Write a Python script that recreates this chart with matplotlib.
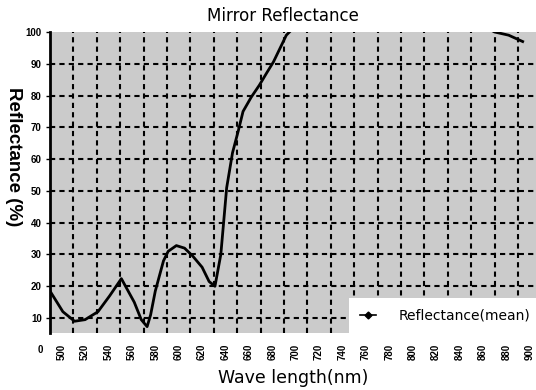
import numpy as np
import matplotlib
matplotlib.use('Agg')
import matplotlib.pyplot as plt
from matplotlib.lines import Line2D

plt.rcParams['font.family'] = ['Liberation Sans', 'DejaVu Sans']

# Datos (longitud de onda en nm, reflectancia en %)
wavelength = [490, 501, 511, 520, 531, 541, 551, 562, 568, 573, 576, 580, 587, 591,
              598, 605, 612, 620, 626, 631, 636, 641, 646, 651, 655, 662, 669, 675,
              681, 692, 700, 720, 760, 800, 840, 860, 870, 882, 894]
reflectance = [18.5, 12, 9, 9.5, 12, 17, 22.4, 15, 9.5, 7.3, 11, 18.5, 28, 31,
               32.8, 32, 29.5, 26, 21.5, 20, 30, 51, 62, 69, 75, 79.5, 83.3, 87,
               90.6, 99, 102, 106, 109, 109, 106, 102, 100, 99, 97]

tick_wl = list(range(500, 901, 20))
grid_wl = list(range(510, 900, 20))
y_ticks = list(range(10, 101, 10))

fig = plt.figure(figsize=(5.36, 3.9), dpi=100)
ax = fig.add_axes([50 / 536, 1 - 333 / 390, 1 - 50 / 536, (333 - 32) / 390])
ax.set_facecolor('#cbcbcb')

# Rejilla punteada
for g in grid_wl:
    ax.axvline(g, color='black', lw=1.5, ls=(0, (2.5, 2)), zorder=1)
for g in y_ticks[:-1]:
    ax.axhline(g, color='black', lw=1.5, ls=(0, (2.5, 2)), zorder=1)

ax.plot(wavelength, reflectance, color='black', lw=2, zorder=3)

ax.set_xlim(490, 905.4)
ax.set_ylim(5.3, 100)

ax.set_xticks(tick_wl)
ax.set_xticklabels([str(t) for t in tick_wl], rotation=90, fontsize=7,
                   fontweight='bold')
ax.set_yticks(y_ticks)
ax.set_yticklabels([str(t) for t in y_ticks], fontsize=7, fontweight='bold')
ax.tick_params(axis='x', length=0, pad=8)
ax.tick_params(axis='y', length=3, width=1, pad=3)
ax.text(-0.014, 0, '0', transform=ax.get_yaxis_transform(), ha='right',
        va='center', fontsize=7, fontweight='bold', clip_on=False)

for s in ['top', 'right', 'bottom']:
    ax.spines[s].set_visible(False)
ax.spines['left'].set_linewidth(2)

# Titulo y etiquetas
fig.text(283 / 536, 1 - 16 / 390, 'Mirror Reflectance', ha='center', va='center',
         fontsize=12, family='DejaVu Sans')
fig.text(293 / 536, 1 - 378 / 390, 'Wave length(nm)', ha='center', va='center',
         fontsize=12.5, family='DejaVu Sans')
fig.text(13 / 536, 1 - 157 / 390, 'Reflectance (%)', ha='center', va='center',
         fontsize=13.5, fontweight='bold', rotation=-90)

handle = Line2D([], [], color='black', lw=1.2, marker='D', markersize=3.5)
leg = ax.legend([handle], ['Reflectance(mean)'], loc='lower right',
                bbox_to_anchor=(1.01, 0.0), prop={'family': 'DejaVu Sans', 'size': 10},
                frameon=True, fancybox=False, borderpad=0.75, handlelength=1.2,
                handletextpad=1.6, borderaxespad=0)
leg.get_frame().set_facecolor('white')
leg.get_frame().set_edgecolor('none')
leg.get_frame().set_alpha(1)
leg.set_zorder(5)

fig.savefig('out.png', dpi=100)
